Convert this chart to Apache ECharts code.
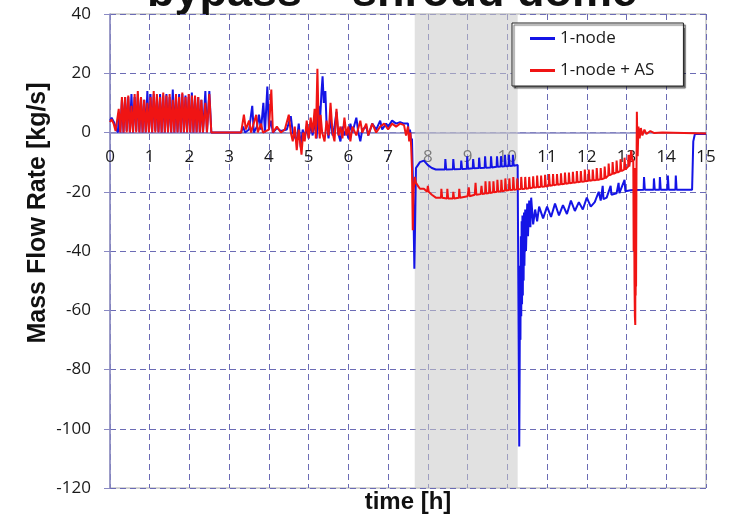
<!DOCTYPE html>
<html>
<head>
<meta charset="utf-8">
<script src="https://cdn.jsdelivr.net/npm/echarts@6/dist/echarts.min.js"></script>
<style>
  html, body { margin: 0; padding: 0; background: #fff; }
  #chart { width: 731px; height: 518px; }
</style>
</head>
<body>
<div id="chart"></div>
<script>
// axis ticks
var xTicks = [0, 15, 1];
var yTicks = [-120, 40, 20];
var shadedSpan = [7.67, 10.26];
var seriesNames = ['1-node', '1-node + AS'];

// 1-node  [time h, mass flow kg/s]
var blue = [
  [0,4],[0.04,5],[0.1,3.5],[0.16,1],[0.2,0],
  [0.22,6],[0.26,0],[0.3,11],[0.34,0],[0.38,12],[0.42,0.5],[0.46,12],[0.5,0],[0.54,13],[0.58,0],
  [0.62,12],[0.66,0.5],[0.7,13],[0.74,0],[0.78,12],[0.82,0],[0.86,11],[0.9,0],[0.94,14],[0.98,0],
  [1.02,13],[1.06,0],[1.1,13],[1.14,0.5],[1.18,12],[1.22,0],[1.26,13],[1.3,0],[1.34,12.5],[1.38,0],
  [1.42,13],[1.46,0],[1.5,12],[1.54,0],[1.58,14.5],[1.62,0],[1.66,12],[1.7,0],[1.74,13],[1.78,0],
  [1.82,13],[1.86,0],[1.9,12.5],[1.94,0],[1.98,12],[2.02,0],[2.06,13.5],[2.1,0],[2.14,12],[2.18,0],
  [2.22,12],[2.26,0],[2.3,11],[2.34,0],[2.4,14],[2.44,0],[2.5,14],[2.55,0],
  [3.3,0],[3.35,2],[3.4,0],[3.5,1],[3.58,9],[3.62,0],[3.7,2],[3.75,6],[3.8,1],[3.86,10],[3.9,0],
  [3.96,15.5],[4.0,1],[4.05,4],[4.1,0],[4.2,1.5],[4.3,0.5],[4.45,1],[4.55,5.5],[4.6,0],[4.7,-3],
  [4.75,3],[4.8,-5],[4.85,1],[4.9,-2],[4.95,2],[5.0,-2],[5.05,3],[5.1,-1],[5.15,4],[5.2,-2],
  [5.25,9],[5.28,2],[5.32,13],[5.35,19],[5.38,10],[5.42,14],[5.45,3],[5.5,-2],[5.55,5],[5.6,-1],
  [5.65,2],[5.7,7],[5.74,0],[5.8,-3],[5.85,2],[5.9,-1],[5.95,1],[6.0,-2],[6.05,3],[6.1,0],
  [6.2,5],[6.25,0],[6.3,-3],[6.35,1],[6.45,2],[6.5,-1],[6.6,3],[6.7,1],[6.8,4],[6.85,1],
  [6.95,3],[7.0,2],[7.1,4],[7.2,3],[7.3,3.5],[7.4,3],[7.5,3],[7.52,-1],[7.55,1],[7.58,-3],
  [7.6,-2],[7.63,-20],[7.66,-46],[7.68,-30],[7.7,-12],[7.75,-11],[7.8,-10],[7.9,-9.5],[8.0,-11],
  [8.1,-12],[8.2,-12.5],
  [8.43,-12.5],[8.44,-9],[8.46,-12.5],[8.63,-12.4],[8.64,-9],[8.66,-12.4],[8.83,-12.3],[8.84,-9.5],
  [8.86,-12.3],[8.98,-12.2],[8.99,-8],[9.01,-12.2],[9.13,-12.1],[9.14,-9],[9.16,-12.1],[9.28,-12],
  [9.29,-8.5],[9.31,-12],[9.43,-11.9],[9.44,-8],[9.46,-11.9],[9.58,-11.8],[9.59,-8],[9.61,-11.8],
  [9.73,-11.6],[9.74,-8],[9.76,-11.6],[9.83,-11.5],[9.84,-8],[9.86,-11.5],[9.93,-11.4],[9.94,-7.5],
  [9.96,-11.4],[10.03,-11.3],[10.04,-7.5],[10.06,-11.3],[10.13,-11.2],[10.14,-7.5],[10.16,-11.2],
  [10.26,-11],[10.28,-60],[10.3,-106],[10.31,-80],[10.32,-45],[10.33,-70],[10.34,-35],[10.35,-62],
  [10.36,-30],[10.37,-58],[10.38,-28],[10.39,-55],[10.4,-30],[10.41,-50],[10.42,-27],[10.43,-45],
  [10.45,-26],[10.47,-40],[10.5,-24],[10.52,-35],[10.55,-23],[10.58,-32],[10.6,-22],[10.65,-31],
  [10.7,-26],[10.75,-30],[10.8,-25],[10.9,-29],[11.0,-25],[11.1,-28.5],[11.2,-24],[11.3,-28],
  [11.4,-24.5],[11.5,-27.5],[11.6,-23],[11.7,-26.5],[11.8,-23.5],[11.9,-26],[12.0,-22],[12.1,-25],
  [12.2,-23.5],[12.3,-20],[12.35,-23],[12.4,-18],[12.42,-22.5],[12.5,-22],[12.6,-18],[12.62,-21],
  [12.75,-20.5],[12.8,-17],[12.82,-20.5],[12.95,-16],[12.97,-19.8],[13.1,-19.5],[13.2,-19.4],
  [13.43,-19.3],[13.44,-15],[13.46,-19.3],[13.68,-19.3],[13.69,-15.5],[13.71,-19.3],[13.83,-19.3],
  [13.84,-15],[13.86,-19.3],[14.03,-19.3],[14.04,-14.5],[14.06,-19.3],[14.23,-19.3],[14.24,-14.5],
  [14.26,-19.3],[14.65,-19.3],[14.68,-3],[14.72,-0.5],[15,-0.5]
];

// 1-node + AS
var red = [
  [0,3.5],[0.04,4.5],[0.09,3],[0.14,0.5],[0.18,0],
  [0.22,8],[0.26,0],[0.3,12],[0.34,0],[0.38,12],[0.42,0],[0.46,12.5],[0.5,0],[0.54,9],[0.58,0],
  [0.62,13],[0.66,0],[0.7,14],[0.74,0],[0.78,12],[0.82,0],[0.86,11],[0.9,0],[0.94,10],[0.98,0],
  [1.02,12],[1.06,0],[1.1,14],[1.14,0],[1.18,13],[1.22,0],[1.26,12],[1.3,0],[1.34,13.5],[1.38,0],
  [1.42,12.5],[1.46,0],[1.5,13],[1.54,0],[1.58,11],[1.62,0],[1.66,13],[1.7,0],[1.74,12],[1.78,0],
  [1.82,13.5],[1.86,0],[1.9,12],[1.94,0],[1.98,13],[2.02,0],[2.06,12.5],[2.1,0],[2.14,12.5],[2.18,0],
  [2.22,12],[2.26,0],[2.3,11],[2.34,0],[2.4,10],[2.44,0],[2.5,13],[2.55,0],
  [3.3,0],[3.37,6],[3.42,1],[3.5,4],[3.55,0],[3.68,6],[3.72,0],[3.8,3],[3.85,0],[4.0,1],
  [4.06,14.5],[4.1,0],[4.2,2],[4.3,0],[4.4,1],[4.5,6],[4.55,0],[4.6,-3],[4.65,2],[4.7,-6],
  [4.75,1],[4.82,-7.5],[4.86,0],[4.9,-3],[4.95,4],[5.0,-2],[5.05,5],[5.1,0],[5.15,8],[5.18,-2],
  [5.22,21.5],[5.25,3],[5.28,-2],[5.3,6],[5.34,0],[5.4,-3],[5.45,4],[5.5,-1],[5.55,10],[5.6,0],
  [5.65,-3],[5.7,8],[5.75,-1],[5.8,2],[5.85,-2],[5.9,5],[5.95,-1],[6.0,2],[6.05,-3],[6.1,2],
  [6.2,-1],[6.3,4],[6.35,0],[6.45,3],[6.5,-1],[6.6,3],[6.7,0],[6.8,2],[6.9,3],[7.0,1],
  [7.1,3],[7.2,2],[7.3,3],[7.4,2.5],[7.45,-1],[7.5,2],[7.53,-3],[7.56,0],[7.58,-5],[7.6,-12],
  [7.62,-33],[7.64,-20],[7.67,-15],[7.7,-17],[7.75,-18],[7.8,-19],[7.9,-19],[7.98,-20],[8.0,-18],
  [8.02,-20],[8.1,-21],[8.2,-22],
  [8.33,-22],[8.34,-19],[8.36,-22],[8.48,-22.3],[8.49,-19],[8.51,-22.3],[8.63,-22.3],[8.64,-20],
  [8.66,-22.3],[8.78,-22],[8.79,-19],[8.81,-22],[9.0,-21.5],[9.03,-18.5],[9.05,-21.5],[9.18,-21],
  [9.2,-17],[9.22,-21],[9.33,-20.8],[9.35,-18],[9.37,-20.8],[9.44,-20.6],[9.45,-16.5],[9.47,-20.6],
  [9.54,-20.4],[9.55,-16.5],[9.57,-20.4],[9.64,-20.2],[9.65,-16.5],[9.67,-20.2],[9.74,-20],
  [9.75,-16],[9.77,-20],[9.84,-19.8],[9.85,-16],[9.87,-19.8],[9.94,-19.6],[9.95,-15.5],[9.97,-19.6],
  [10.04,-19.4],[10.05,-15.5],[10.07,-19.4],[10.14,-19.3],[10.15,-15],[10.17,-19.3],[10.24,-19.2],
  [10.25,-15.5],[10.27,-19.2],[10.34,-19.1],[10.35,-15],[10.37,-19.1],[10.44,-19],[10.45,-15],
  [10.47,-19],[10.54,-18.8],[10.55,-15],[10.57,-18.8],[10.64,-18.6],[10.65,-14.8],[10.67,-18.6],
  [10.74,-18.5],[10.75,-14.5],[10.77,-18.5],[10.84,-18.3],[10.85,-14.5],[10.87,-18.3],[10.94,-18.2],
  [10.95,-14.3],[10.97,-18.2],[11.04,-18],[11.05,-14],[11.07,-18],[11.14,-17.8],[11.15,-14],
  [11.17,-17.8],[11.24,-17.6],[11.25,-14],[11.27,-17.6],[11.34,-17.5],[11.35,-13.8],[11.37,-17.5],
  [11.44,-17.3],[11.45,-13.5],[11.47,-17.3],[11.54,-17.1],[11.55,-13.5],[11.57,-17.1],[11.64,-17],
  [11.65,-13.3],[11.67,-17],[11.74,-16.8],[11.75,-13],[11.77,-16.8],[11.84,-16.6],[11.85,-13],
  [11.87,-16.6],[11.94,-16.5],[11.95,-12.5],[11.97,-16.5],[12.04,-16.3],[12.05,-12.5],[12.07,-16.3],
  [12.14,-16.1],[12.15,-12.5],[12.17,-16.1],[12.24,-16],[12.25,-12],[12.27,-16],[12.34,-15.8],
  [12.35,-12],[12.37,-15.8],[12.44,-15.5],[12.45,-11.5],[12.47,-15.5],[12.54,-14.5],[12.55,-10.5],
  [12.57,-14.5],[12.64,-14],[12.65,-10],[12.67,-14],[12.74,-13.5],[12.75,-9.5],[12.77,-13.5],
  [12.84,-13],[12.85,-9],[12.87,-13],[12.94,-12.5],[12.95,-8.5],[12.97,-12.5],[13.04,-11.5],
  [13.05,-7.5],[13.07,-11.5],[13.12,-6],[13.15,-10],[13.17,-9],[13.18,-40],[13.19,-12],[13.2,-50],
  [13.21,-62],[13.22,-65],[13.225,-15],[13.23,-55],[13.235,-12],[13.24,-52],[13.25,-15],[13.26,7],
  [13.28,-8],[13.3,2],[13.33,-2],[13.36,1.5],
  [13.4,-1],[13.45,1],[13.5,-0.5],[13.6,0.5],[13.7,-0.2],[13.9,0],[15,-0.3]
];

var chart = echarts.init(document.getElementById('chart'));
var axisColor = '#8a8ac4';
var gridLine = { show: true, lineStyle: { color: '#6b6bb5', type: [6, 4], width: 1 } };
var tickFont = { fontFamily: 'Open Sans', fontSize: 17, color: '#1a1a1a' };

// plot area 14..488 px tall, y=0 sits 40/160 of the way down
var gridTop = 14, gridBottom = 30, plotH = 518 - gridTop - gridBottom;
var zeroOffset = -plotH * (0 - yTicks[0]) / (yTicks[1] - yTicks[0]);

chart.setOption({
  animation: false,
  grid: { left: 110, right: 25, top: gridTop, bottom: gridBottom, show: true, borderColor: '#a8a8a8', borderWidth: 1 },
  xAxis: {
    type: 'value', min: xTicks[0], max: xTicks[1], interval: xTicks[2],
    offset: zeroOffset,
    axisLine: { onZero: false, lineStyle: { color: axisColor, width: 1.5 } },
    axisTick: { show: false },
    axisLabel: Object.assign({ margin: 16 }, tickFont),
    splitLine: gridLine
  },
  yAxis: {
    type: 'value', min: yTicks[0], max: yTicks[1], interval: yTicks[2],
    axisLine: { show: true, lineStyle: { color: axisColor, width: 1.5 } },
    axisTick: { show: true, length: 6, lineStyle: { color: axisColor } },
    axisLabel: Object.assign({ margin: 19 }, tickFont),
    splitLine: gridLine
  },
  legend: {
    data: seriesNames,
    orient: 'vertical', left: 512, top: 23,
    padding: [7, 29, 7, 18], itemGap: 15,
    itemWidth: 25, itemHeight: 3, icon: 'rect',
    textStyle: { fontFamily: 'Open Sans', fontSize: 17, color: '#1a1a1a' },
    backgroundColor: '#fff', borderColor: '#222', borderWidth: 1,
    shadowColor: 'rgba(0,0,0,0.6)', shadowOffsetX: 2, shadowOffsetY: 2, shadowBlur: 1
  },
  graphic: [
    { type: 'text', x: 392, y: 16, style: { text: 'bypass – shroud dome', textAlign: 'center', textVerticalAlign: 'bottom', font: 'bold 45px "Liberation Sans"', fill: '#111' } },
    { type: 'text', x: 408, y: 502, style: { text: 'time [h]', textAlign: 'center', textVerticalAlign: 'middle', font: 'bold 24px "Liberation Sans"', fill: '#111' } },
    { type: 'text', x: 38, y: 213, rotation: Math.PI / 2, style: { text: 'Mass Flow Rate [kg/s]', textAlign: 'center', textVerticalAlign: 'middle', font: 'bold 25px "Liberation Sans"', fill: '#111' } }
  ],
  series: [
    {
      type: 'line', data: [], silent: true,
      markArea: {
        silent: true,
        itemStyle: { color: 'rgba(200,200,200,0.55)' },
        data: [[{ xAxis: shadedSpan[0] }, { xAxis: shadedSpan[1] }]]
      }
    },
    {
      name: seriesNames[0], type: 'line', data: blue, showSymbol: false,
      lineStyle: { color: '#1414e6', width: 2 }, itemStyle: { color: '#1414e6' }
    },
    {
      name: seriesNames[1], type: 'line', data: red, showSymbol: false,
      lineStyle: { color: '#f01414', width: 2 }, itemStyle: { color: '#f01414' }
    }
  ]
});
</script>
</body>
</html>
